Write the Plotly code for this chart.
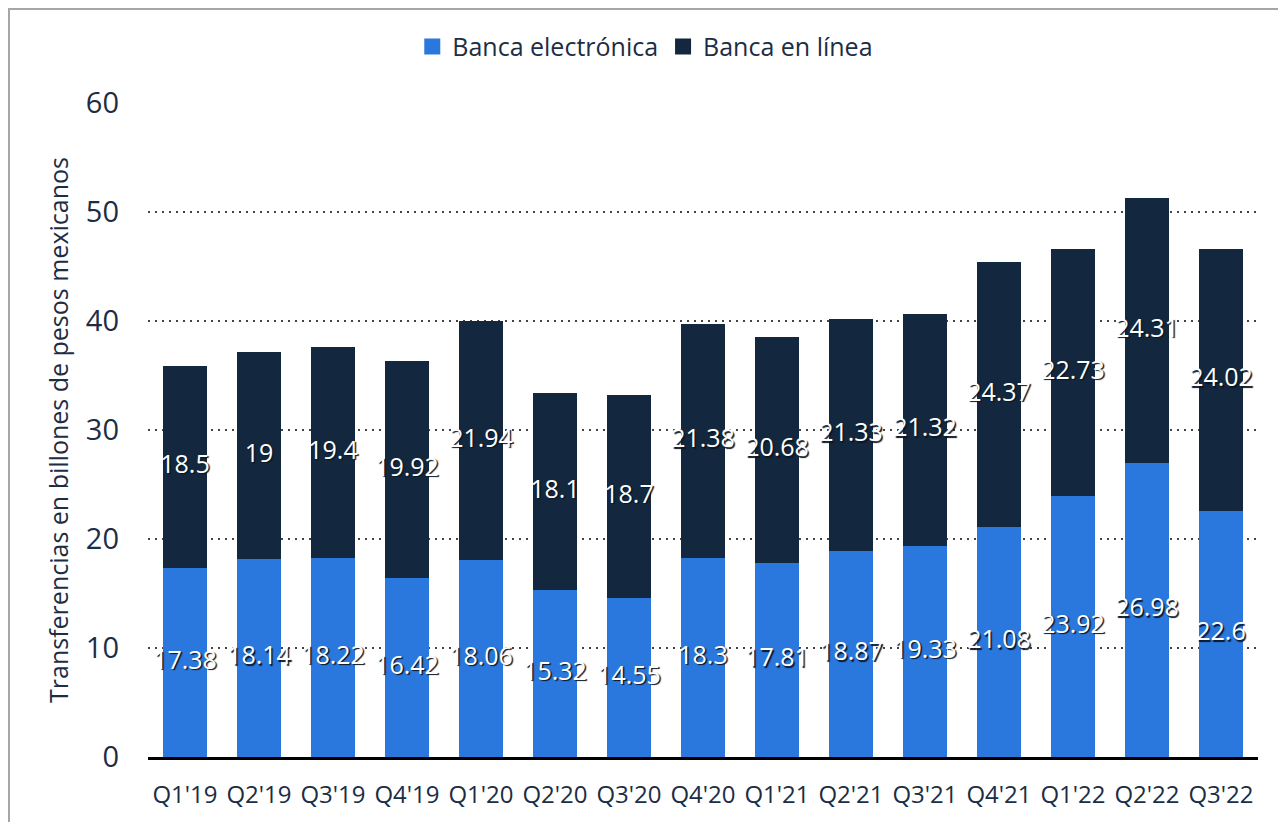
import plotly.graph_objects as go

categories = ["Q1'19", "Q2'19", "Q3'19", "Q4'19", "Q1'20", "Q2'20", "Q3'20", "Q4'20",
              "Q1'21", "Q2'21", "Q3'21", "Q4'21", "Q1'22", "Q2'22", "Q3'22"]
banca_electronica = [17.38, 18.14, 18.22, 16.42, 18.06, 15.32, 14.55, 18.3,
                     17.81, 18.87, 19.33, 21.08, 23.92, 26.98, 22.6]
banca_en_linea = [18.5, 19, 19.4, 19.92, 21.94, 18.1, 18.7, 21.38,
                  20.68, 21.33, 21.32, 24.37, 22.73, 24.31, 24.02]
y_ticks = [0, 10, 20, 30, 40, 50, 60]

BLUE = "#2a77dd"
DARK = "#13283e"
TEXT = "#1c2d44"
FONT = "Open Sans"

W, H = 1286, 822
L, T, PW, PH = 140, 95, 1110, 654

fig = go.Figure()
fig.add_trace(go.Bar(x=categories, y=banca_electronica, name="Banca electrónica",
                     marker=dict(color=BLUE, line=dict(width=0)), hoverinfo="skip",
                     showlegend=False))
fig.add_trace(go.Bar(x=categories, y=banca_en_linea, name="Banca en línea",
                     marker=dict(color=DARK, line=dict(width=0)), hoverinfo="skip",
                     showlegend=False))

# legend entries with larger square swatches
for name, col in [("Banca electrónica", BLUE), ("Banca en línea", DARK)]:
    fig.add_trace(go.Scatter(x=[None], y=[None], mode="markers", name=name,
                             marker=dict(symbol="square", size=18, color=col),
                             hoverinfo="skip"))

label_font = dict(family=FONT, size=25, color="white", shadow="1.5px 1.5px 1px #0a1624")
fig.add_trace(go.Scatter(x=categories, y=[v / 2 for v in banca_electronica],
                         text=[f"{v:g}" for v in banca_electronica], mode="text",
                         textfont=label_font, showlegend=False, hoverinfo="skip",
                         cliponaxis=False))
fig.add_trace(go.Scatter(x=categories,
                         y=[a + b / 2 for a, b in zip(banca_electronica, banca_en_linea)],
                         text=[f"{v:g}" for v in banca_en_linea], mode="text",
                         textfont=label_font, showlegend=False, hoverinfo="skip",
                         cliponaxis=False))

fig.update_layout(
    barmode="stack",
    bargap=0.4,
    width=W, height=H,
    margin=dict(l=L, r=W - L - PW, t=T, b=H - T - PH, autoexpand=False),
    paper_bgcolor="white", plot_bgcolor="white",
    font=dict(family=FONT, color=TEXT),
    legend=dict(orientation="h", x=0.448, xanchor="center", y=1.086, yanchor="middle",
                font=dict(size=25, color=TEXT), traceorder="normal",
                itemwidth=30, bgcolor="rgba(0,0,0,0)"),
    xaxis=dict(showgrid=False, showline=True, linecolor="black", linewidth=3,
               range=[-0.5, len(categories) - 0.5], autorange=False,
               ticks="", tickfont=dict(size=24, color=TEXT), ticklabelstandoff=14,
               zeroline=False, fixedrange=True, automargin=False),
    yaxis=dict(range=[0, 60], tickvals=y_ticks, showgrid=True, gridcolor="#444444",
               griddash="2px,5px", gridwidth=1.5, zeroline=False, showline=False, ticks="",
               tickfont=dict(size=29, color=TEXT), ticklabelstandoff=28, automargin=False,
               title=dict(text="Transferencias en billones de pesos mexicanos",
                          font=dict(size=25, color=TEXT), standoff=10)),
    shapes=[dict(type="rect", xref="paper", yref="paper",
                 x0=(1 - L) / PW, x1=(1273 - L) / PW,
                 y0=-0.3, y1=(T + PH - 1) / PH,
                 line=dict(color="#a6a6a6", width=2), fillcolor="rgba(0,0,0,0)",
                 layer="below")],
)

fig.write_html("out.html")
